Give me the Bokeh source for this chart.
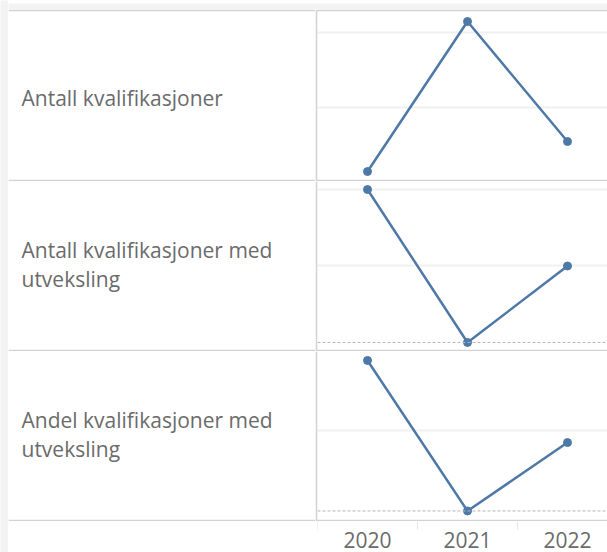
from bokeh.plotting import figure
from bokeh.layouts import column, row
from bokeh.models import Range1d, Grid, FixedTicker, Span, Label
from bokeh.embed import file_html
from bokeh.resources import INLINE
from bokeh.core.properties import value

# ---- data ----
years = ["2020", "2021", "2022"]
antall = [83, 123, 91]                 # Antall kvalifikasjoner
antall_utv = [2, 0, 1]                 # Antall kvalifikasjoner med utveksling
andel_utv = [1.87, 0.0, 0.85]          # Andel kvalifikasjoner med utveksling (%)

row_labels = [
    ["Antall kvalifikasjoner"],
    ["Antall kvalifikasjoner med", "utveksling"],
    ["Andel kvalifikasjoner med", "utveksling"],
]
series = [antall, antall_utv, andel_utv]
grid_ticks = [[100, 120], [1, 2], [1, 2]]

# ---- styles ----
FONT = "Open Sans"
FSIZE = "21px"
TXT = "#6b6b6b"
LINE = "#d2d2d2"
BG = "#f3f3f3"
BLUE = "#4e79a7"
GRIDC = "#f0f0f0"
y_ranges = [(80.87, 125.67), (-0.092, 2.105), (-0.106, 1.981)]
label_baselines = [[82], [100, 71], [100, 71]]

xs = [i + 0.5 for i in range(len(years))]
edges = [i for i in range(len(years))]
x_range = Range1d(0, 2.9)


def base_fig(w, h, xr, yr, border=LINE, bg="white"):
    p = figure(width=w, height=h, x_range=xr, y_range=yr,
               output_backend="svg", toolbar_location=None,
               x_axis_location=None, y_axis_location=None,
               outline_line_color=None, background_fill_color=bg,
               border_fill_color=border)
    p.min_border_left = 0
    p.min_border_right = 0
    p.min_border_top = 0
    p.min_border_bottom = 0
    p.grid.visible = False
    return p


left_strip = base_fig(8, 552, Range1d(0, 1), Range1d(0, 1), border=BG, bg=BG)
top_strip = base_fig(599, 9, Range1d(0, 1), Range1d(0, 1), border=BG, bg=BG)

rows = []
for k in range(3):
    h = 172 if k == 0 else 170
    top = 2 if k == 0 else 0

    lf = base_fig(307, h, Range1d(0, 307), Range1d(0, 168))
    lf.min_border_top = top
    lf.min_border_bottom = 2
    for line_text, yb in zip(row_labels[k], label_baselines[k]):
        lf.add_layout(Label(x=13, y=yb, text=line_text, text_font=FONT,
                            text_font_size=FSIZE, text_color=TXT,
                            text_baseline="alphabetic", text_align="left"))

    cf = base_fig(292, h, x_range, Range1d(*y_ranges[k]))
    cf.min_border_top = top
    cf.min_border_bottom = 2
    cf.min_border_left = 2
    cf.add_layout(Grid(dimension=1, ticker=FixedTicker(ticks=grid_ticks[k]),
                       grid_line_color=GRIDC, grid_line_width=2))
    lo, hi = y_ranges[k]
    if lo < 0 < hi:
        cf.add_layout(Span(location=0, dimension="width", line_color="#b4b4b4",
                           line_width=1, line_dash="3 2"))
    cf.line(xs, series[k], line_color=BLUE, line_width=2.5)
    cf.scatter(xs, series[k], size=8, fill_color=BLUE, line_color=BLUE)
    rows.append(row(lf, cf))

# axis area
blank = base_fig(307, 31, Range1d(0, 1), Range1d(0, 1), border="white")

year_fig = base_fig(292, 31, x_range, Range1d(0, 31), border="white")
year_fig.min_border_left = 2
# band separators (category boundaries) as short tick marks
year_fig.segment(x0=edges, y0=[31] * len(edges), x1=edges, y1=[23] * len(edges),
                 line_color="#e4e4e4", line_width=1)
year_fig.text(x=xs, y=[13] * len(years), text=years, text_font=value(FONT),
              text_font_size=FSIZE, text_color=TXT, text_align="center",
              text_baseline="alphabetic")

main = column(top_strip, *rows, row(blank, year_fig))
layout = row(left_strip, main)

open("out.html", "w").write(file_html(layout, INLINE))
